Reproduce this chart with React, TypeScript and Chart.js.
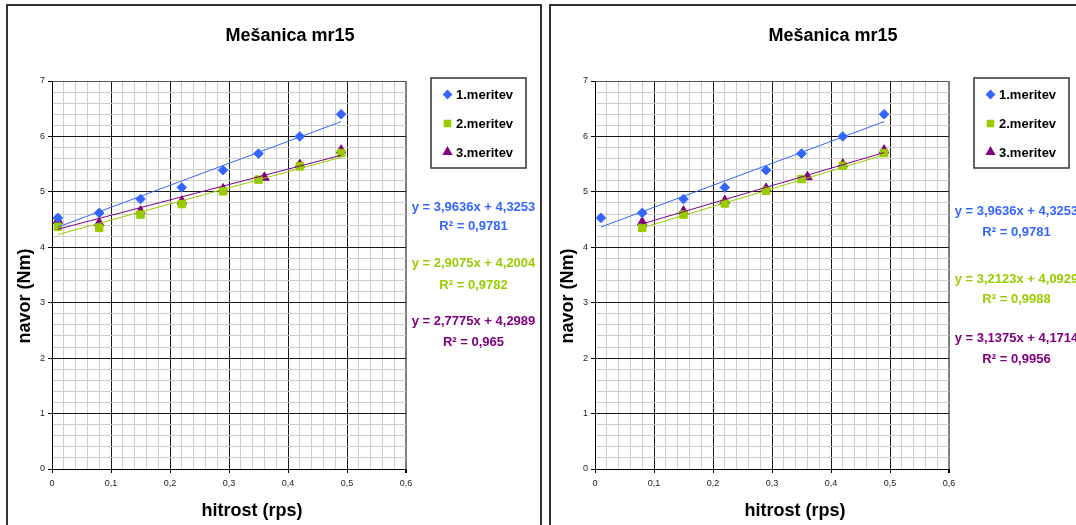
import React, { useEffect, useRef } from 'react';
import { Chart, registerables } from 'chart.js';
import { drawPoint } from 'chart.js/helpers';

Chart.register(...registerables);

const FONT = "'Liberation Sans', Arial, sans-serif";

// ---- shared text / series meta ----
const chartTitle = 'Mešanica mr15';
const xAxisTitle = 'hitrost (rps)';
const yAxisTitle = 'navor (Nm)';
const seriesLabels = ['1.meritev', '2.meritev', '3.meritev'];
const seriesColors = ['#3366FF', '#99CC00', '#800080'];
const seriesStyles = ['rectRot', 'rect', 'triangle'];
const seriesRadius = [4.8, 5.3, 5.5];

const xMajorTicks = [0, 0.1, 0.2, 0.3, 0.4, 0.5, 0.6];
const xTickLabels = ['0', '0,1', '0,2', '0,3', '0,4', '0,5', '0,6'];
const yMajorTicks = [0, 1, 2, 3, 4, 5, 6, 7];
const yTickLabels = ['0', '1', '2', '3', '4', '5', '6', '7'];

// ---- left chart data ----
const leftX1 = [0.01, 0.08, 0.15, 0.22, 0.29, 0.35, 0.42, 0.49];
const leftY1 = [4.53, 4.62, 4.87, 5.08, 5.39, 5.69, 6.0, 6.4];
const leftX2 = [0.01, 0.08, 0.15, 0.22, 0.29, 0.35, 0.42, 0.49];
const leftY2 = [4.37, 4.35, 4.59, 4.78, 5.01, 5.22, 5.46, 5.7];
const leftX3 = [0.01, 0.08, 0.15, 0.22, 0.29, 0.36, 0.42, 0.49];
const leftY3 = [4.48, 4.44, 4.65, 4.83, 5.05, 5.26, 5.49, 5.75];
const leftSlopes = [3.9636, 2.9075, 2.7775];
const leftIntercepts = [4.3253, 4.2004, 4.2989];
const leftEquations = ['y = 3,9636x + 4,3253', 'y = 2,9075x + 4,2004', 'y = 2,7775x + 4,2989'];
const leftR2 = ['R² = 0,9781', 'R² = 0,9782', 'R² = 0,965'];

// ---- right chart data ----
const rightX1 = [0.01, 0.08, 0.15, 0.22, 0.29, 0.35, 0.42, 0.49];
const rightY1 = [4.53, 4.62, 4.87, 5.08, 5.39, 5.69, 6.0, 6.4];
const rightX2 = [0.08, 0.15, 0.22, 0.29, 0.35, 0.42, 0.49];
const rightY2 = [4.35, 4.59, 4.79, 5.02, 5.23, 5.47, 5.7];
const rightX3 = [0.08, 0.15, 0.22, 0.29, 0.36, 0.42, 0.49];
const rightY3 = [4.45, 4.65, 4.84, 5.06, 5.27, 5.5, 5.75];
const rightSlopes = [3.9636, 3.2123, 3.1375];
const rightIntercepts = [4.3253, 4.0929, 4.1714];
const rightEquations = ['y = 3,9636x + 4,3253', 'y = 3,2123x + 4,0929', 'y = 3,1375x + 4,1714'];
const rightR2 = ['R² = 0,9781', 'R² = 0,9988', 'R² = 0,9956'];

type PanelProps = {
  left: number;
  xs: number[][];
  ys: number[][];
  slopes: number[];
  intercepts: number[];
  equations: string[];
  r2: string[];
  eqBaselines: number[];
  r2Baselines: number[];
};

const near = (a: number, b: number) => Math.abs(a - b) < 1e-6;
const isXMajor = (v: number) => xMajorTicks.some((t) => near(t, v));
const isYMajor = (v: number) => yMajorTicks.some((t) => near(t, v));

function Panel(props: PanelProps) {
  const ref = useRef<HTMLCanvasElement | null>(null);
  useEffect(() => {
    const canvas = ref.current;
    if (!canvas) return;

    const scatterSets = props.xs.map((xArr, s) => ({
      label: seriesLabels[s],
      data: xArr.map((x, i) => ({ x, y: props.ys[s][i] })),
      showLine: false,
      pointStyle: seriesStyles[s],
      pointRadius: seriesRadius[s],
      pointBackgroundColor: seriesColors[s],
      pointBorderColor: seriesColors[s],
      pointBorderWidth: 1,
      backgroundColor: seriesColors[s],
      borderColor: seriesColors[s],
      order: 2,
    }));
    const trendSets = props.xs.map((xArr, s) => {
      const x0 = Math.min(...xArr);
      const x1 = Math.max(...xArr);
      return {
        label: 'trend ' + seriesLabels[s],
        data: [
          { x: x0, y: props.slopes[s] * x0 + props.intercepts[s] },
          { x: x1, y: props.slopes[s] * x1 + props.intercepts[s] },
        ],
        showLine: true,
        pointRadius: 0,
        borderWidth: 1,
        borderColor: seriesColors[s],
        backgroundColor: seriesColors[s],
        order: 1,
      };
    });

    const decor = {
      id: 'decor',
      afterDraw(chart: any) {
        const ctx = chart.ctx as CanvasRenderingContext2D;
        ctx.save();
        // frame
        ctx.strokeStyle = '#333';
        ctx.lineWidth = 2;
        ctx.strokeRect(7, 5, 534, 600);
        // title
        ctx.fillStyle = '#000';
        ctx.textAlign = 'center';
        ctx.textBaseline = 'alphabetic';
        ctx.font = `bold 18px ${FONT}`;
        ctx.fillText(chartTitle, 290, 41);
        // x axis title
        ctx.fillText(xAxisTitle, 252, 516);
        // y axis title
        ctx.save();
        ctx.translate(30, 296);
        ctx.rotate(-Math.PI / 2);
        ctx.fillText(yAxisTitle, 0, 0);
        ctx.restore();
        // legend
        ctx.strokeStyle = '#333';
        ctx.lineWidth = 1.5;
        ctx.strokeRect(431, 78, 95, 90);
        const legendBase = [99, 128, 157];
        const legendMarkY = [94.5, 123.5, 152];
        ctx.font = `bold 13px ${FONT}`;
        ctx.textAlign = 'left';
        for (let s = 0; s < 3; s++) {
          ctx.fillStyle = seriesColors[s];
          ctx.strokeStyle = seriesColors[s];
          drawPoint(ctx, { pointStyle: seriesStyles[s], radius: seriesRadius[s] * 0.8, borderWidth: 1, rotation: 0 } as any, 447.5, legendMarkY[s]);
          ctx.fillStyle = '#000';
          ctx.fillText(seriesLabels[s], 456, legendBase[s]);
        }
        // trendline equations
        ctx.textAlign = 'center';
        ctx.font = `bold 13px ${FONT}`;
        for (let s = 0; s < 3; s++) {
          ctx.fillStyle = seriesColors[s];
          ctx.fillText(props.equations[s], 473.5, props.eqBaselines[s]);
          ctx.fillText(props.r2[s], 473.5, props.r2Baselines[s]);
        }
        ctx.restore();
      },
    };

    const chart = new Chart(canvas, {
      type: 'scatter',
      data: { datasets: [...trendSets, ...scatterSets] as any },
      options: {
        responsive: false,
        animation: false,
        events: [],
        layout: { padding: { left: 0, right: 137, top: 81, bottom: 0 } },
        plugins: {
          legend: { display: false },
          title: { display: false },
          tooltip: { enabled: false },
        },
        scales: {
          x: {
            type: 'linear',
            min: 0,
            max: 0.6,
            afterFit: (s: any) => {
              s.height = 56;
            },
            ticks: {
              stepSize: 0.02,
              autoSkip: false,
              maxRotation: 0,
              minRotation: 0,
              padding: 5,
              color: '#222',
              font: { family: FONT, size: 9 },
              callback: (v: any) => {
                const i = xMajorTicks.findIndex((t) => near(t, Number(v)));
                return i >= 0 ? xTickLabels[i] : '';
              },
            },
            grid: {
              color: (c: any) => {
                const v = c.tick ? c.tick.value : 0;
                if (near(v, 0.6)) return '#808080';
                return isXMajor(v) ? '#1a1a1a' : '#cdcdcd';
              },
              lineWidth: (c: any) => {
                const v = c.tick ? c.tick.value : 0;
                return near(v, 0.6) ? 2 : 1;
              },
              tickColor: (c: any) => {
                const v = c.tick ? c.tick.value : 0;
                return isXMajor(v) ? '#000' : 'rgba(0,0,0,0)';
              },
              tickLength: 4,
              drawTicks: true,
            },
            border: { display: true, color: '#000', width: 1 },
          },
          y: {
            type: 'linear',
            min: 0,
            max: 7,
            afterFit: (s: any) => {
              s.width = 52;
            },
            ticks: {
              stepSize: 0.2,
              autoSkip: false,
              padding: 3,
              color: '#222',
              font: { family: FONT, size: 9 },
              callback: (v: any) => {
                const i = yMajorTicks.findIndex((t) => near(t, Number(v)));
                return i >= 0 ? yTickLabels[i] : '';
              },
            },
            grid: {
              color: (c: any) => {
                const v = c.tick ? c.tick.value : 0;
                if (near(v, 7)) return '#555';
                return isYMajor(v) ? '#1a1a1a' : '#cdcdcd';
              },
              lineWidth: 1,
              tickColor: (c: any) => {
                const v = c.tick ? c.tick.value : 0;
                return isYMajor(v) ? '#000' : 'rgba(0,0,0,0)';
              },
              tickLength: 4,
              drawTicks: true,
            },
            border: { display: true, color: '#000', width: 1 },
          },
        },
      },
      plugins: [decor],
    } as any);
    return () => chart.destroy();
  }, []);

  return (
    <canvas
      ref={ref}
      width={543}
      height={525}
      style={{ position: 'absolute', left: props.left, top: 0, width: 543, height: 525 }}
    />
  );
}

export default function App() {
  return (
    <div
      style={{
        position: 'absolute',
        left: 0,
        top: 0,
        width: 1076,
        height: 525,
        overflow: 'hidden',
        background: '#fff',
      }}
    >
      <Panel
        left={0}
        xs={[leftX1, leftX2, leftX3]}
        ys={[leftY1, leftY2, leftY3]}
        slopes={leftSlopes}
        intercepts={leftIntercepts}
        equations={leftEquations}
        r2={leftR2}
        eqBaselines={[210.5, 266.5, 325]}
        r2Baselines={[230, 288.5, 346]}
      />
      <Panel
        left={543}
        xs={[rightX1, rightX2, rightX3]}
        ys={[rightY1, rightY2, rightY3]}
        slopes={rightSlopes}
        intercepts={rightIntercepts}
        equations={rightEquations}
        r2={rightR2}
        eqBaselines={[215, 282.5, 342]}
        r2Baselines={[235.5, 303, 363]}
      />
    </div>
  );
}
